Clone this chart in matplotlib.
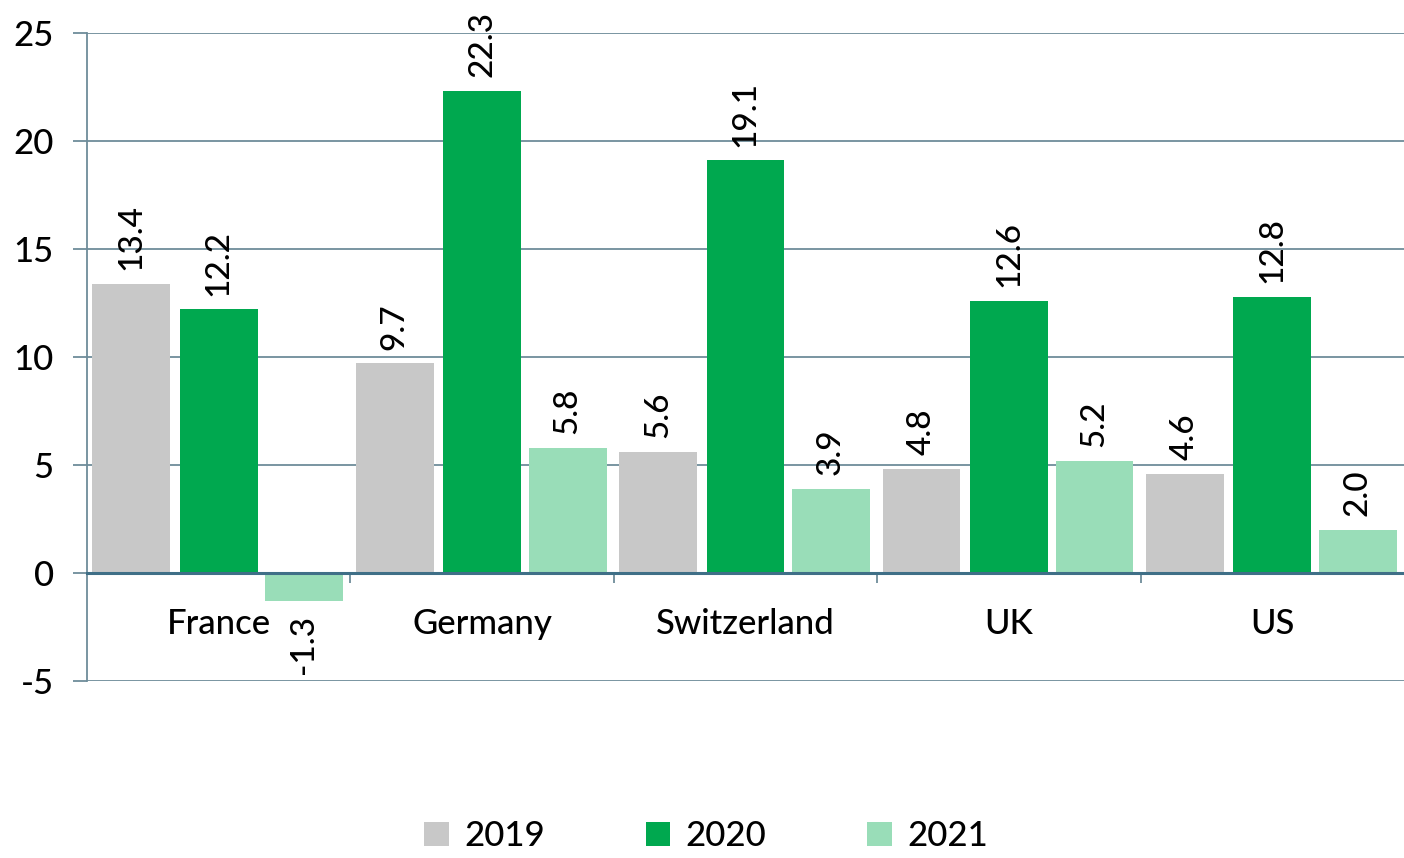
import matplotlib.pyplot as plt
import numpy as np

COUNTRIES = ["France", "Germany", "Switzerland", "UK", "US"]
YEARS = ["2019", "2020", "2021"]
VALUES_2019 = [13.4, 9.7, 5.6, 4.8, 4.6]
VALUES_2020 = [12.2, 22.3, 19.1, 12.6, 12.8]
VALUES_2021 = [-1.3, 5.8, 3.9, 5.2, 2.0]

COLORS = ["#C8C8C8", "#00A84F", "#99DDB8"]
GRID_COLOR = "#6E8C9A"
AXIS_COLOR = "#3F6F87"


def plot():
    plt.rcParams["font.family"] = ["Lato", "DejaVu Sans"]
    plt.rcParams["axes.unicode_minus"] = False
    fig = plt.figure(figsize=(14.04, 8.58), dpi=100)
    ax = fig.add_axes([0.062, 0.2063, 0.938, 0.7552])

    x = np.arange(len(COUNTRIES))
    width = 0.295
    offsets = [-0.332, 0.0, 0.325]
    series = [VALUES_2019, VALUES_2020, VALUES_2021]

    for vals, off, color, year in zip(series, offsets, COLORS, YEARS):
        bars = ax.bar(x + off, vals, width, color=color, label=year, zorder=2)
        for rect, v in zip(bars, vals):
            cx = rect.get_x() + rect.get_width() / 2
            if v >= 0:
                ax.annotate(f"{v:.1f}", (cx, v), xytext=(0, 10),
                            textcoords="offset points", rotation=90,
                            ha="center", va="bottom", fontsize=24,
                            fontweight="medium")
            else:
                ax.annotate(f"{v:.1f}", (cx, v), xytext=(0, -10),
                            textcoords="offset points", rotation=90,
                            ha="center", va="top", fontsize=24,
                            fontweight="medium")

    ax.set_xlim(-0.5, len(COUNTRIES) - 0.5)
    ax.set_ylim(-5, 25)
    ax.set_yticks(np.arange(-5, 26, 5))

    ax.yaxis.grid(True, color=GRID_COLOR, linewidth=1.3, zorder=0)
    ax.set_axisbelow(True)

    for side in ["top", "right"]:
        ax.spines[side].set_visible(False)
    ax.spines["left"].set_color(GRID_COLOR)
    ax.spines["left"].set_linewidth(1.3)
    ax.spines["bottom"].set_position(("data", 0))
    ax.spines["bottom"].set_color(AXIS_COLOR)
    ax.spines["bottom"].set_linewidth(2.2)
    ax.spines["bottom"].set_zorder(3)

    ax.set_xticks(x)
    ax.set_xticklabels(COUNTRIES, fontweight="medium")
    ax.set_xticks(np.arange(0.5, len(COUNTRIES) - 0.5, 1), minor=True)
    ax.tick_params(axis="x", which="major", length=0, pad=25, labelsize=25)
    ax.tick_params(axis="x", which="minor", length=7, width=1.3,
                   color=GRID_COLOR, direction="out")
    ax.tick_params(axis="y", length=10, width=1.3, color=GRID_COLOR,
                   pad=14, labelsize=25)
    for lbl in ax.get_yticklabels():
        lbl.set_fontweight("medium")

    leg = fig.legend(loc="lower center", bbox_to_anchor=(0.503, -0.03),
                     ncol=3, frameon=False, fontsize=25, handlelength=0.7,
                     handleheight=0.7, handletextpad=0.45, columnspacing=2.9)
    for t in leg.get_texts():
        t.set_fontweight("medium")

    fig.savefig("out.png", dpi=100, facecolor="white")


if __name__ == "__main__":
    plot()
